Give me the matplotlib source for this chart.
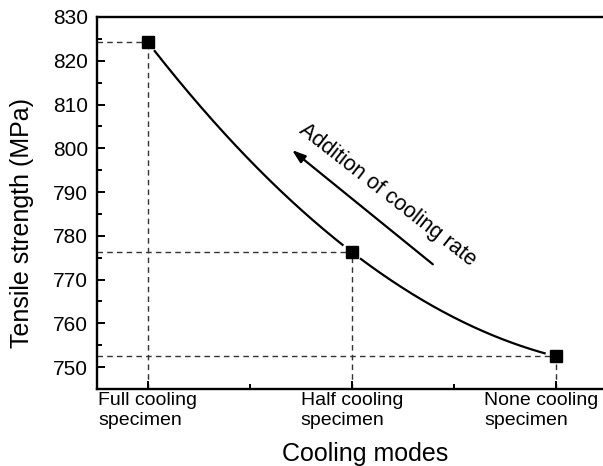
import numpy as np
import matplotlib
matplotlib.use("Agg")
import matplotlib.pyplot as plt
import matplotlib.transforms as mtransforms
from matplotlib.ticker import MultipleLocator, FixedLocator

modes = ["Full cooling\nspecimen", "Half cooling\nspecimen", "None cooling\nspecimen"]
strength = [824.2, 776.3, 752.5]
y_ticks = [750, 760, 770, 780, 790, 800, 810, 820, 830]


def main():
    plt.rcParams["font.family"] = ["Liberation Sans", "DejaVu Sans"]

    fig = plt.figure(figsize=(6.03, 4.66), dpi=100)
    ax = fig.add_axes([97 / 603, 1 - 389 / 466, 506 / 603, 372 / 466])

    x = np.arange(len(modes))
    ax.set_xlim(-0.25, 2.233)
    ax.set_ylim(745, 830)

    # guide lines from the axes to each point
    for xi, yi in zip(x, strength):
        ax.plot([-0.25, xi], [yi, yi], color="#333333", lw=1.0, ls=(0, (4, 3)), zorder=1)
        ax.plot([xi, xi], [745, yi], color="#333333", lw=1.0, ls=(0, (4, 3)), zorder=1)

    # smooth trend line with small gaps near the markers
    coef = np.polyfit(x, strength, 2)
    t = np.linspace(0, 2, 600)
    v = np.polyval(coef, t)
    pts = ax.transData.transform(np.column_stack([t, v]))
    mk = ax.transData.transform(np.column_stack([x, strength]))
    near = np.zeros_like(t, dtype=bool)
    for p in mk:
        near |= np.hypot(pts[:, 0] - p[0], pts[:, 1] - p[1]) < 11
    v = np.where(near, np.nan, v)
    ax.plot(t, v, color="black", lw=1.6, zorder=2)

    ax.plot(x, strength, ls="none", marker="s", ms=8.5, color="black", zorder=3)

    ax.annotate("", xy=(0.707, 799.6), xytext=(1.398, 773.5),
                arrowprops=dict(arrowstyle="-|>,head_length=0.5,head_width=0.17",
                                color="black", lw=1.6, mutation_scale=16, shrinkA=0, shrinkB=0))
    ax.text(1.175, 789.3, "Addition of cooling rate", rotation=-38, fontsize=15.5,
            ha="center", va="center", rotation_mode="anchor")

    ax.set_xticks(x)
    ax.set_xticklabels(modes, ha="center", multialignment="left")
    ax.xaxis.set_minor_locator(FixedLocator([0.5, 1.5]))
    ax.set_yticks(y_ticks)
    ax.yaxis.set_minor_locator(MultipleLocator(5))
    ax.tick_params(axis="both", which="major", direction="in", length=6, width=1.4)
    ax.tick_params(axis="both", which="minor", direction="in", length=3.5, width=1.4)
    ax.tick_params(axis="y", labelsize=15, pad=6.5)
    ax.tick_params(axis="x", labelsize=14, pad=2.5)

    # last category label is pulled left so it fits in the picture
    last = ax.get_xticklabels()[-1]
    shift = mtransforms.ScaledTranslation(-14 / 100, 0, fig.dpi_scale_trans)
    last.set_transform(last.get_transform() + shift)

    for s in ax.spines.values():
        s.set_linewidth(1.7)
    ax.spines["right"].set_visible(False)

    ax.set_xlabel("Cooling modes", fontsize=18)
    ax.set_ylabel("Tensile strength (MPa)", fontsize=18)
    ax.xaxis.set_label_coords(0.53, -0.142)
    ax.yaxis.set_label_coords(-0.125, 0.446)

    fig.savefig("out.png", dpi=100)


if __name__ == "__main__":
    main()
